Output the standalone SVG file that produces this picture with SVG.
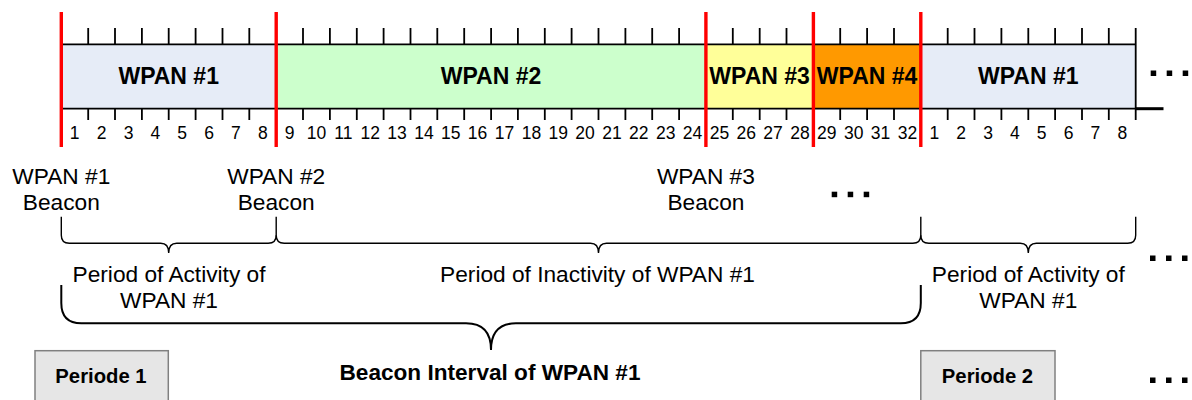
<svg xmlns="http://www.w3.org/2000/svg" width="1192" height="400" viewBox="0 0 1192 400">
  <style>
    .seg { stroke: none; }
    .barline { stroke: #000; stroke-width: 1.8; fill: none; }
    .tick { stroke: #000; stroke-width: 1.8; fill: none; }
    .sep { stroke: #FF0000; stroke-width: 3.4; }
    .wpan { font-family: "Liberation Sans", Arial, sans-serif; font-weight: bold; font-size: 23px; text-anchor: middle; fill: #000; }
    .num { font-family: "Liberation Sans", Arial, sans-serif; font-size: 17.5px; text-anchor: middle; fill: #000; }
    .lbl { font-family: "Liberation Sans", Arial, sans-serif; font-size: 22.7px; text-anchor: middle; fill: #000; }
    .blbl { font-family: "Liberation Sans", Arial, sans-serif; font-weight: bold; font-size: 22.6px; text-anchor: middle; fill: #000; }
    .plbl { font-family: "Liberation Sans", Arial, sans-serif; font-weight: bold; font-size: 20.3px; text-anchor: middle; fill: #000; }
    .brace { stroke: #000; stroke-width: 1.4; fill: none; }
    .bigbrace { stroke: #000; stroke-width: 2; fill: none; }
    .pbox { fill: #E6E6E6; stroke: #808080; stroke-width: 1.5; }
    .dot { fill: #000; }
  </style>
  <defs>
    <g id="dots3">
      <rect class="dot" x="0" y="0" width="5.5" height="5.5"/>
      <rect class="dot" x="16" y="0" width="5.5" height="5.5"/>
      <rect class="dot" x="32" y="0" width="5.5" height="5.5"/>
    </g>
  </defs>

  <!-- superframe bar segments -->
  <g id="seg-wpan1-a">
    <rect class="seg" x="61.3" y="44.3" width="214.9" height="64.4" fill="#E6ECF7"/>
    <text class="wpan" x="168.7" y="83.5">WPAN #1</text>
  </g>
  <g id="seg-wpan2">
    <rect class="seg" x="276.2" y="44.3" width="429.7" height="64.4" fill="#CCFFCC"/>
    <text class="wpan" x="491" y="83.5">WPAN #2</text>
  </g>
  <g id="seg-wpan3">
    <rect class="seg" x="705.9" y="44.3" width="107.5" height="64.4" fill="#FFFF99"/>
    <text class="wpan" x="759.6" y="83.5">WPAN #3</text>
  </g>
  <g id="seg-wpan4">
    <rect class="seg" x="813.4" y="44.3" width="107.4" height="64.4" fill="#FF9900"/>
    <text class="wpan" x="867.1" y="83.5">WPAN #4</text>
  </g>
  <g id="seg-wpan1-b">
    <rect class="seg" x="920.8" y="44.3" width="214.9" height="64.4" fill="#E6ECF7"/>
    <text class="wpan" x="1028.3" y="83.5">WPAN #1</text>
  </g>

  <!-- bar outline, slot ticks and time axis -->
  <g id="axis">
    <path class="barline" d="M61.3 44.3 H1135.7 M61.3 108.7 H1135.7"/>
    <path d="M1135.7 108.7 H1163.5" stroke="#000" stroke-width="3" fill="none"/>
    <path class="tick" d="M88.2 28V44.3M115 28V44.3M141.9 28V44.3M168.7 28V44.3M195.6 28V44.3M222.5 28V44.3M249.3 28V44.3M303 28V44.3M329.9 28V44.3M356.8 28V44.3M383.6 28V44.3M410.5 28V44.3M437.3 28V44.3M464.2 28V44.3M491.1 28V44.3M517.9 28V44.3M544.8 28V44.3M571.6 28V44.3M598.5 28V44.3M625.4 28V44.3M652.2 28V44.3M679.1 28V44.3M732.8 28V44.3M759.7 28V44.3M786.5 28V44.3M840.2 28V44.3M867.1 28V44.3M894 28V44.3M947.7 28V44.3M974.5 28V44.3M1001.4 28V44.3M1028.3 28V44.3M1055.1 28V44.3M1082 28V44.3M1108.8 28V44.3M1135.7 28V120"/>
    <path class="tick" d="M88.2 108.7V120M115 108.7V120M141.9 108.7V120M168.7 108.7V120M195.6 108.7V120M222.5 108.7V120M249.3 108.7V120M303 108.7V120M329.9 108.7V120M356.8 108.7V120M383.6 108.7V120M410.5 108.7V120M437.3 108.7V120M464.2 108.7V120M491.1 108.7V120M517.9 108.7V120M544.8 108.7V120M571.6 108.7V120M598.5 108.7V120M625.4 108.7V120M652.2 108.7V120M679.1 108.7V120M732.8 108.7V120M759.7 108.7V120M786.5 108.7V120M840.2 108.7V120M867.1 108.7V120M894 108.7V120M947.7 108.7V120M974.5 108.7V120M1001.4 108.7V120M1028.3 108.7V120M1055.1 108.7V120M1082 108.7V120M1108.8 108.7V120"/>
  </g>

  <!-- slot numbers -->
  <g id="slot-numbers" class="num">
    <text x="74.7" y="138.5">1</text>
    <text x="101.6" y="138.5">2</text>
    <text x="128.5" y="138.5">3</text>
    <text x="155.3" y="138.5">4</text>
    <text x="182.2" y="138.5">5</text>
    <text x="209" y="138.5">6</text>
    <text x="235.9" y="138.5">7</text>
    <text x="262.8" y="138.5">8</text>
    <text x="289.6" y="138.5">9</text>
    <text x="316.5" y="138.5">10</text>
    <text x="343.3" y="138.5">11</text>
    <text x="370.2" y="138.5">12</text>
    <text x="397.1" y="138.5">13</text>
    <text x="423.9" y="138.5">14</text>
    <text x="450.8" y="138.5">15</text>
    <text x="477.6" y="138.5">16</text>
    <text x="504.5" y="138.5">17</text>
    <text x="531.4" y="138.5">18</text>
    <text x="558.2" y="138.5">19</text>
    <text x="585.1" y="138.5">20</text>
    <text x="611.9" y="138.5">21</text>
    <text x="638.8" y="138.5">22</text>
    <text x="665.7" y="138.5">23</text>
    <text x="692.5" y="138.5">24</text>
    <text x="719.4" y="138.5">25</text>
    <text x="746.2" y="138.5">26</text>
    <text x="773.1" y="138.5">27</text>
    <text x="800" y="138.5">28</text>
    <text x="826.8" y="138.5">29</text>
    <text x="853.7" y="138.5">30</text>
    <text x="880.5" y="138.5">31</text>
    <text x="907.4" y="138.5">32</text>
    <text x="934.3" y="138.5">1</text>
    <text x="961.1" y="138.5">2</text>
    <text x="988" y="138.5">3</text>
    <text x="1014.8" y="138.5">4</text>
    <text x="1041.7" y="138.5">5</text>
    <text x="1068.6" y="138.5">6</text>
    <text x="1095.4" y="138.5">7</text>
    <text x="1122.3" y="138.5">8</text>
  </g>

  <!-- beacon separators -->
  <g id="separators">
    <line class="sep" x1="61.3" y1="12" x2="61.3" y2="147"/>
    <line class="sep" x1="276.2" y1="12" x2="276.2" y2="147"/>
    <line class="sep" x1="705.9" y1="12" x2="705.9" y2="147"/>
    <line class="sep" x1="813.4" y1="12" x2="813.4" y2="147"/>
    <line class="sep" x1="920.8" y1="12" x2="920.8" y2="147"/>
  </g>

  <!-- beacon labels -->
  <g id="beacon-wpan1">
    <text class="lbl" x="61.3" y="183.5">WPAN #1</text>
    <text class="lbl" x="61.3" y="209.7">Beacon</text>
  </g>
  <g id="beacon-wpan2">
    <text class="lbl" x="276.2" y="183.5">WPAN #2</text>
    <text class="lbl" x="276.2" y="209.7">Beacon</text>
  </g>
  <g id="beacon-wpan3">
    <text class="lbl" x="705.9" y="183.5">WPAN #3</text>
    <text class="lbl" x="705.9" y="209.7">Beacon</text>
  </g>

  <!-- continuation marks -->
  <g id="continuation">
    <use href="#dots3" x="831.7" y="191.7"/>
    <use href="#dots3" x="1150.7" y="70.5"/>
    <use href="#dots3" x="1150" y="255.5"/>
    <use href="#dots3" x="1150" y="377.5"/>
  </g>

  <!-- braces -->
  <g id="connectors">
    <path class="brace" d="M61.3 216.7 V235.3 Q61.3 243.3 69.3 243.3 H160.7 Q168.7 243.3 168.7 253 Q168.7 243.3 176.7 243.3 H268.2 Q276.2 243.3 276.2 235.3 V216.7"/>
    <path class="brace" d="M276.2 235.3 Q276.2 243.3 284.2 243.3 H590.5 Q598.5 243.3 598.5 253 Q598.5 243.3 606.5 243.3 H912.8 Q920.8 243.3 920.8 235.3"/>
    <path class="brace" d="M920.8 216.7 V235.3 Q920.8 243.3 928.8 243.3 H1020.3 Q1028.3 243.3 1028.3 253 Q1028.3 243.3 1036.3 243.3 H1127.7 Q1135.7 243.3 1135.7 235.3 V216.7"/>
    <path class="bigbrace" d="M61.3 285 V303 Q61.3 323.3 81.3 323.3 H466 Q491 323.3 491 350 Q491 323.3 516 323.3 H900.8 Q920.8 323.3 920.8 303 V285"/>
  </g>

  <!-- period labels -->
  <g id="activity-1">
    <text class="lbl" x="169" y="281.7">Period of Activity of</text>
    <text class="lbl" x="169" y="308.3">WPAN #1</text>
  </g>
  <g id="inactivity">
    <text class="lbl" x="597.5" y="281.7">Period of Inactivity of WPAN #1</text>
  </g>
  <g id="activity-2">
    <text class="lbl" x="1028.3" y="281.7">Period of Activity of</text>
    <text class="lbl" x="1028.3" y="308.3">WPAN #1</text>
  </g>
  <g id="beacon-interval">
    <text class="blbl" x="490" y="380">Beacon Interval of WPAN #1</text>
  </g>

  <!-- period boxes -->
  <g id="periode-1">
    <rect class="pbox" x="35" y="350.7" width="133.3" height="60"/>
    <text class="plbl" x="101" y="383.3">Periode 1</text>
  </g>
  <g id="periode-2">
    <rect class="pbox" x="920.8" y="350.7" width="134.2" height="60"/>
    <text class="plbl" x="987.5" y="383.3">Periode 2</text>
  </g>
</svg>
